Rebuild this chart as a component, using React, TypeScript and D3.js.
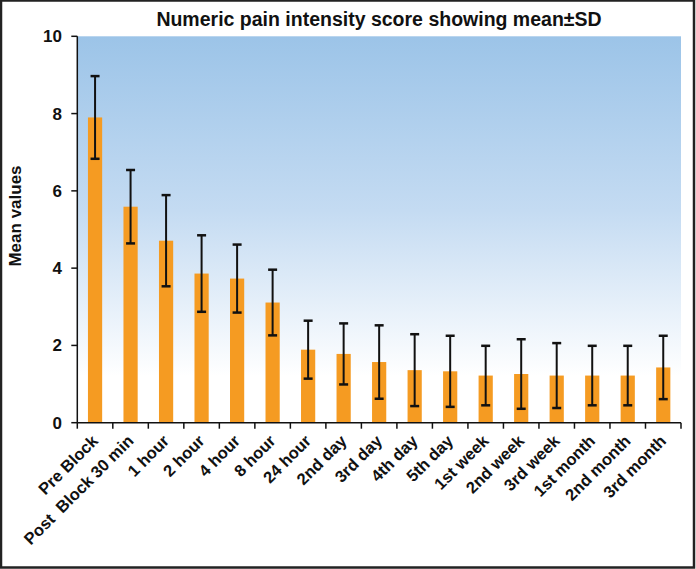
import React from "react";
import * as d3 from "d3";

const categories = ["Pre Block", "Post  Block 30 min", "1 hour", "2 hour", "4 hour", "8 hour", "24 hour", "2nd day", "3rd day", "4th day", "5th day", "1st week", "2nd week", "3rd week", "1st month", "2nd month", "3rd month"];
const means = [7.9, 5.59, 4.71, 3.86, 3.73, 3.11, 1.89, 1.78, 1.57, 1.36, 1.33, 1.22, 1.26, 1.22, 1.22, 1.22, 1.43];
const sds = [1.07, 0.95, 1.18, 0.99, 0.88, 0.85, 0.75, 0.79, 0.95, 0.93, 0.92, 0.77, 0.9, 0.84, 0.77, 0.77, 0.82];
const yTicks = [0, 2, 4, 6, 8, 10];
const title = "Numeric pain intensity score showing mean±SD";
const yTitle = "Mean values";

const W = 696, H = 569;
const left = 77.3, right = 681, top = 36.3, bottom = 422.7;

export default function App() {
  const x = d3.scaleBand<string>().domain(categories).range([left, right]).paddingInner(0.6).paddingOuter(0.3);
  const y = d3.scaleLinear().domain([0, 10]).range([bottom, top]);
  const step = x.step();
  const font = "'Liberation Sans', Arial, sans-serif";
  const cap = 9;
  return (
    <div style={{ position: "absolute", left: 0, top: 0 }}>
      <svg width={W} height={H} style={{ display: "block" }}>
        <defs>
          <linearGradient id="bg" x1="0" y1="0" x2="0" y2="1">
            <stop offset="0" stopColor="#9cc4e8" />
            <stop offset="0.45" stopColor="#c4dbf2" />
            <stop offset="0.88" stopColor="#ffffff" />
            <stop offset="1" stopColor="#ffffff" />
          </linearGradient>
        </defs>
        <rect x={0} y={0} width={W} height={H} fill="#ffffff" />
        <rect x={left} y={top} width={right - left} height={bottom - top} fill="url(#bg)" />
        <text x={379} y={26} textAnchor="middle" fontFamily={font} fontWeight="bold" fontSize={19.5} fill="#111">{title}</text>
        {categories.map((c, i) => (
          <rect key={"b" + i} x={x(c)!} y={y(means[i])} width={x.bandwidth()} height={y(0) - y(means[i])} fill="#f59b22" />
        ))}
        {categories.map((c, i) => {
          const cx = x(c)! + x.bandwidth() / 2;
          const y1 = y(means[i] + sds[i]);
          const y2 = y(means[i] - sds[i]);
          return (
            <g key={"e" + i} stroke="#111" strokeWidth={2}>
              <line x1={cx} x2={cx} y1={y1} y2={y2} />
              <line x1={cx - cap / 2} x2={cx + cap / 2} y1={y1} y2={y1} strokeWidth={2.5} />
              <line x1={cx - cap / 2} x2={cx + cap / 2} y1={y2} y2={y2} strokeWidth={2.5} />
            </g>
          );
        })}
        <line x1={left} x2={left} y1={top} y2={bottom} stroke="#111" strokeWidth={1.5} />
        <line x1={left} x2={right} y1={bottom} y2={bottom} stroke="#111" strokeWidth={1.5} />
        {yTicks.map((t) => (
          <g key={"yt" + t}>
            <line x1={left - 6} x2={left} y1={y(t)} y2={y(t)} stroke="#111" strokeWidth={1.5} />
            <text x={62} y={y(t) + 6} textAnchor="end" fontFamily={font} fontWeight="bold" fontSize={17} fill="#111">{t}</text>
          </g>
        ))}
        {d3.range(categories.length + 1).map((i) => (
          <line key={"xt" + i} x1={left + i * step} x2={left + i * step} y1={bottom} y2={bottom + 6} stroke="#111" strokeWidth={1.5} />
        ))}
        {categories.map((c, i) => {
          const cx = x(c)! + x.bandwidth() / 2;
          const ax = cx + 4, ay = 442;
          return (
            <text key={"xl" + i} x={ax} y={ay} transform={`rotate(-45 ${ax} ${ay})`} textAnchor="end" fontFamily={font} fontWeight="bold" fontSize={16.5} fill="#111" style={{ whiteSpace: "pre" }}>{c}</text>
          );
        })}
        <text transform={`translate(21 ${216}) rotate(-90)`} textAnchor="middle" fontFamily={font} fontWeight="bold" fontSize={17} fill="#111">{yTitle}</text>
        <rect x={1} y={0.5} width={W - 3} height={H - 2} fill="none" stroke="#222" strokeWidth={2.5} />
      </svg>
    </div>
  );
}
